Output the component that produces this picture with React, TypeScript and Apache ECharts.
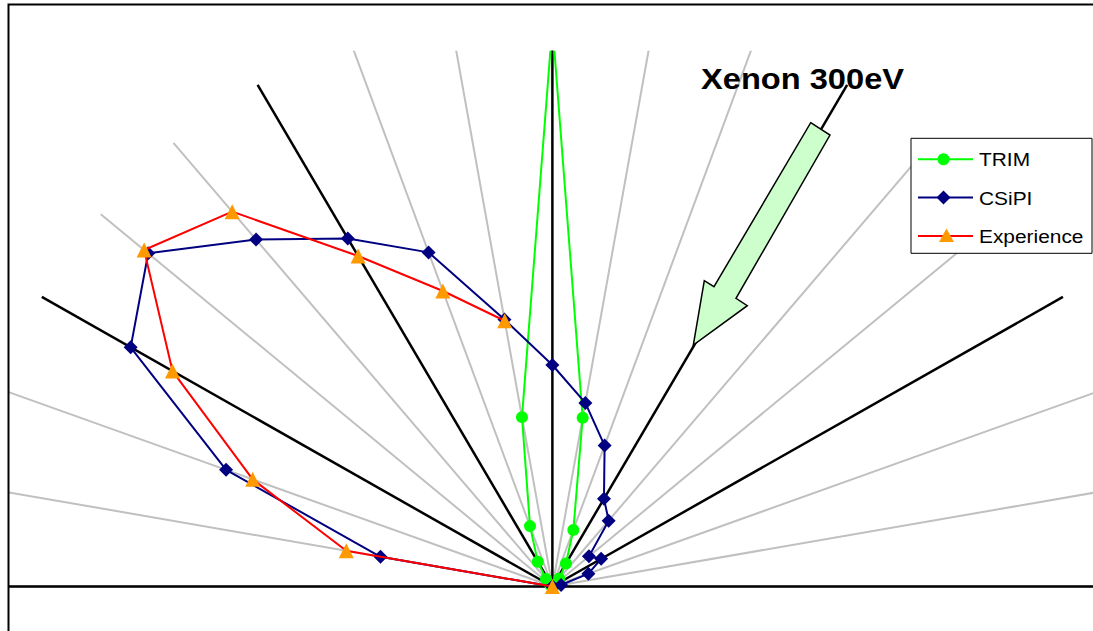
import React, { useEffect, useRef } from "react";
import * as echarts from "echarts";

// Angles (degrees) at which the distributions are sampled
const angles = [0, 10, 20, 30, 40, 50, 60, 70, 80, 90, 100, 110, 120, 130, 140, 150, 160, 170, 180];
// TRIM radii (normalised)
const trimR = [0, 0, 0, 0.002, 0.005, 0.018, 0.046, 0.104, 0.296, 0.97, 0.297, 0.111, 0.0495, 0.017, 0.005, 0.002, 0, 0, 0];
// CSiPI radii
const csipiR = [0, 0.015, 0.065, 0.0955, 0.081, 0.1485, 0.175, 0.259, 0.322, 0.3825, 0.468, 0.614, 0.694, 0.782, 0.895, 0.826, 0.589, 0.296, 0];
// Experience (measured) angles and radii
const expAngles = [100, 110, 120, 130, 140, 150, 160, 170, 180];
const expR = [0.466, 0.543, 0.659, 0.845, 0.904, 0.744, 0.541, 0.355, 0];
// Guide rays
const grayRays = [0, 10, 20, 40, 50, 70, 80, 100, 110, 130, 140, 160, 170, 180];
const blackRays = [0, 30, 60, 90, 120, 150, 180];
const rayLength = 1;
// Legend entries
const legendNames = ["TRIM", "CSiPI", "Experience"];

const toXY = (deg: number, r: number) => {
  const a = (deg * Math.PI) / 180;
  return [r * Math.cos(a), r * Math.sin(a)];
};

export default function App() {
  const ref = useRef<HTMLDivElement>(null);
  useEffect(() => {
    document.body.style.margin = "0";
    if (!ref.current) return;
    const chart = echarts.init(ref.current, undefined, { renderer: "svg" });
    const font = "Liberation Sans, Arial, sans-serif";

    const raySeries = (list: number[], len: number, color: string, width: number) =>
      list.map((deg) => ({
        type: "line",
        name: "ray" + deg + color,
        data: [[0, 0], toXY(deg, len)],
        showSymbol: false,
        symbol: "none",
        silent: true,
        lineStyle: { color, width },
        z: 1,
      }));

    // manual legend (box, sample lines, markers, stretched text)
    const legendRows = [159.3, 197.5, 236];
    const lineColors = ["#00ff00", "#000080", "#ff0000"];
    const lx0 = 918, lx1 = 973, mx = 945.5;
    const legendEls: any[] = [
      {
        type: "rect",
        z: 5,
        shape: { x: 911, y: 138.3, width: 181, height: 115 },
        style: { fill: "#ffffff", stroke: "#000000", lineWidth: 1 },
      },
    ];
    legendNames.forEach((name, i) => {
      const cy = legendRows[i];
      legendEls.push({
        type: "line",
        z: 6,
        shape: { x1: lx0, y1: cy, x2: lx1, y2: cy },
        style: { stroke: lineColors[i], lineWidth: 2 },
      });
      if (i === 0) {
        legendEls.push({ type: "circle", z: 7, shape: { cx: mx - 2, cy, r: 6 }, style: { fill: "#00ff00" } });
      } else if (i === 1) {
        legendEls.push({
          type: "polygon",
          z: 7,
          shape: { points: [[mx - 2, cy - 7], [mx + 5, cy], [mx - 2, cy + 7], [mx - 9, cy]] },
          style: { fill: "#000080" },
        });
      } else {
        legendEls.push({
          type: "polygon",
          z: 7,
          shape: { points: [[mx + 1, cy - 7.5], [mx + 8.5, cy + 6], [mx - 6.5, cy + 6]] },
          style: { fill: "#ff9900" },
        });
      }
      legendEls.push({
        type: "text",
        z: 7,
        x: 979,
        y: cy + 0.5,
        scaleX: 1.13,
        style: {
          text: name,
          font: "18.5px " + font,
          fill: "#000",
          verticalAlign: "middle",
          textVerticalAlign: "middle",
        },
      });
    });

    const option: any = {
      animation: false,
      grid: { left: 10, top: 51.7, right: 0, bottom: 0, containLabel: false },
      xAxis: { type: "value", min: -0.92, max: 0.917, show: false },
      yAxis: { type: "value", min: -0.0768, max: 0.9235, show: false },
      series: [
        ...raySeries(grayRays, rayLength, "#c0c0c0", 2),
        ...raySeries(blackRays, rayLength, "#000000", 2.5),
        {
          type: "line",
          name: legendNames[0],
          data: angles.map((a, i) => toXY(a, trimR[i])),
          symbol: "circle",
          symbolSize: 12,
          itemStyle: { color: "#00ff00" },
          lineStyle: { color: "#00ff00", width: 2 },
          z: 3,
        },
        {
          type: "line",
          name: legendNames[1],
          data: angles.map((a, i) => toXY(a, csipiR[i])),
          symbol: "diamond",
          symbolSize: 14,
          itemStyle: { color: "#000080" },
          lineStyle: { color: "#000080", width: 2 },
          z: 4,
        },
        {
          type: "line",
          name: legendNames[2],
          data: expAngles.map((a, i) => toXY(a, expR[i])),
          symbol: "triangle",
          symbolSize: 15,
          itemStyle: { color: "#ff9900" },
          lineStyle: { color: "#ff0000", width: 2 },
          z: 5,
        },
      ],
      graphic: [
        ...legendEls,
        {
          type: "polygon",
          z: 20,
          shape: {
            points: [
              [810.7, 122.7],
              [830, 135],
              [736, 298.3],
              [747.3, 305.7],
              [693.3, 345],
              [704.3, 280.7],
              [714, 286.7],
            ],
          },
          style: { fill: "#ccffcc", stroke: "#000000", lineWidth: 1.5 },
        },
        {
          type: "text",
          z: 20,
          x: 701,
          y: 79,
          scaleX: 1.125,
          style: {
            text: "Xenon 300eV",
            font: "bold 29px " + font,
            fill: "#000",
            textVerticalAlign: "middle",
            verticalAlign: "middle",
          },
        },
        {
          type: "rect",
          z: 20,
          shape: { x: 8.5, y: 4.5, width: 1200, height: 1000 },
          style: { fill: "none", stroke: "#000000", lineWidth: 2 },
        },
      ],
    };
    chart.setOption(option);
    return () => chart.dispose();
  }, []);
  return <div ref={ref} style={{ width: 1093, height: 631 }} />;
}
